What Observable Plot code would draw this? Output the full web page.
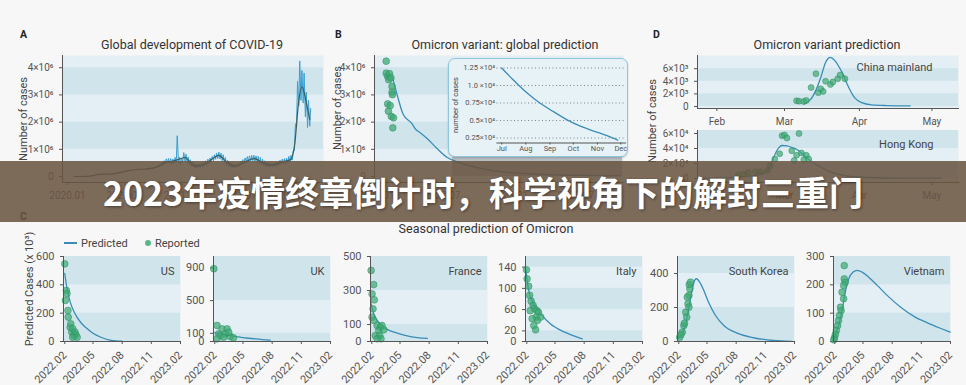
<!DOCTYPE html>
<html><head><meta charset="utf-8">
<script src="https://cdn.jsdelivr.net/npm/d3@7"></script>
<script src="https://cdn.jsdelivr.net/npm/@observablehq/plot@0.6"></script>
<style>
html,body{margin:0;padding:0;background:#f7f7f7;}
#root{position:relative;width:966px;height:385px;overflow:hidden;background:#f7f7f7;font-family:Roboto,"Noto Sans",sans-serif;}
svg{overflow:visible;}
.title{position:absolute;font-size:12.5px;color:#333;transform:translate(-50%,-50%);white-space:nowrap;}
.letter{position:absolute;font-size:10.5px;font-weight:700;color:#222;transform:translate(0,-50%);}
.ylab{position:absolute;font-size:11px;color:#444;transform:translate(-50%,-50%) rotate(-90deg);white-space:nowrap;}
.note{position:absolute;font-size:11px;color:#444;white-space:nowrap;transform:translate(0,-50%);}
#inset{position:absolute;left:448px;top:58px;width:180px;height:99px;box-sizing:border-box;border:1.5px solid #8fc6dd;border-radius:7px;background:#e7f2f7;box-shadow:0 1px 2px rgba(0,0,0,0.18);}
#shade{position:absolute;left:452px;top:157px;width:170px;height:19px;background:rgba(60,60,60,0.28);}
#banner{position:absolute;left:0;top:161px;width:966px;height:61px;background:rgba(105,84,64,0.86);display:flex;align-items:center;justify-content:center;color:#fff;font-family:"Noto Sans CJK SC",sans-serif;font-weight:700;font-size:34px;text-shadow:1px 1px 3px rgba(0,0,0,0.45);white-space:nowrap;}
</style></head><body><div id="root"></div>
<script>
// ---------- DATA ----------
// Panel A: global daily cases (millions)
const aWeekStart = "2020-09-07";
const aDailyHigh = [0.31,0.32,0.33,0.34, 0.36,0.40,0.45,0.52, 0.58,0.65,0.66,0.66,0.64, 0.70,1.50,0.72,0.68,
  0.88,0.82,0.72,0.62, 0.55,0.48,0.44,0.46, 0.48,0.52,0.58,0.64,0.68, 0.74,0.80,0.86,0.90, 0.86,0.80,0.70,0.60,0.52,
  0.48,0.45,0.46,0.50, 0.56,0.62,0.68,0.73, 0.76,0.78,0.78,0.76,0.74, 0.70,0.64,0.58,0.54, 0.50,0.48,0.50,0.52,
  0.55,0.60,0.64,0.66,0.68, 0.74,0.78,0.95,1.90, 3.50,4.25,3.90,3.80,3.10, 2.80,2.50];
const aDailyLow = [0.24,0.25,0.26,0.27, 0.28,0.31,0.34,0.38, 0.42,0.47,0.50,0.48,0.46, 0.50,0.52,0.52,0.45,
  0.55,0.56,0.50,0.44, 0.38,0.34,0.31,0.33, 0.34,0.37,0.41,0.44,0.48, 0.52,0.58,0.63,0.66, 0.64,0.58,0.50,0.42,0.36,
  0.34,0.32,0.33,0.35, 0.38,0.42,0.47,0.52, 0.55,0.58,0.58,0.56,0.52, 0.48,0.44,0.40,0.37, 0.35,0.34,0.36,0.37,
  0.38,0.42,0.45,0.46,0.46, 0.50,0.52,0.60,0.95, 2.00,2.60,2.80,2.70,2.20, 1.80,1.85];
const aTrendDates = ["2020-01-22","2020-03-01","2020-03-20","2020-04-10","2020-05-15","2020-06-15","2020-07-15","2020-08-15","2020-09-15","2020-10-15","2020-11-10","2020-12-01","2020-12-20","2021-01-10","2021-02-10","2021-03-10","2021-04-10","2021-04-28","2021-05-25","2021-06-20","2021-07-20","2021-08-20","2021-09-25","2021-10-15","2021-11-20","2021-12-15","2021-12-28","2022-01-10","2022-01-20","2022-02-05","2022-02-14"];
const aTrendValues = [0,0.002,0.03,0.08,0.09,0.14,0.22,0.26,0.28,0.36,0.52,0.56,0.62,0.70,0.40,0.42,0.66,0.78,0.52,0.38,0.52,0.66,0.46,0.42,0.55,0.62,1.2,2.8,3.3,2.6,2.1];
const abYTicks = [0,1,2,3,4];
const abYTickLabels = ["0","1×10⁶","2×10⁶","3×10⁶","4×10⁶"];
const abDarkBands = [[1,2],[3,4]];
const aXTicks = ["2020-01-01","2020-07-01","2021-01-01","2021-07-01","2022-01-01"];
const aXTickLabels = ["2020.01","2020.07","2021.01","2021.07","2022.01"];

// Panel B: global Omicron prediction (millions)
const bDotDates = ["2022-01-28","2022-01-28","2022-02-01","2022-02-06","2022-02-04","2022-02-10","2022-02-13","2022-02-13","2022-02-14","2022-02-01","2022-02-08","2022-02-03","2022-02-11","2022-02-17","2022-02-15"];
const bDotValues = [4.24,3.80,3.68,3.78,3.56,3.63,3.31,3.10,3.01,2.67,2.61,2.40,2.21,2.16,1.79];
const bPredDates = ["2022-02-14","2022-02-27","2022-03-15","2022-04-08","2022-04-19","2022-04-30","2022-05-20","2022-06-16","2022-07-14","2022-08-19","2022-10-13","2022-12-07","2023-03-30","2023-07-19","2023-11-01"];
const bPredValues = [3.65,3.0,2.3,1.95,1.73,1.62,1.4,1.03,0.7,0.5,0.3,0.18,0.08,0.04,0.02];
const bXTicks = ["2022-01-01","2022-07-01","2023-01-01","2023-07-01"];
const bXTickLabels = ["2022.01","2022.07","2023.01","2023.07"];
// Inset (×10⁴)
const insetDates = ["2022-07-01","2022-07-15","2022-08-02","2022-08-19","2022-09-05","2022-09-23","2022-10-10","2022-10-27","2022-11-14","2022-11-27"];
const insetValues = [1.25,1.09,0.9,0.75,0.63,0.51,0.42,0.35,0.28,0.22];
const insetYTicks = [0.25,0.5,0.75,1,1.25];
const insetYTickLabels = ["0.25×10⁴","0.5×10⁴","0.75×10⁴","1.0 ×10⁴","1.25 ×10⁴"];
const insetXTicks = ["2022-07-01","2022-08-01","2022-09-01","2022-10-01","2022-11-01","2022-12-01"];
const insetXTickLabels = ["Jul","Aug","Sep","Oct","Nov","Dec"];

// Panel D
const dXTicks = ["2022-02-01","2022-03-01","2022-04-01","2022-05-01"];
const dXTickLabels = ["Feb","Mar","Apr","May"];
const cnDotDates = ["2022-03-06","2022-03-07","2022-03-09","2022-03-10","2022-03-12","2022-03-14","2022-03-15","2022-03-16","2022-03-17","2022-03-18","2022-03-20","2022-03-21","2022-03-23","2022-03-24","2022-03-26"];
const cnDotValues = [900,850,800,950,3000,5200,2200,2800,2400,4000,3500,3900,4400,5000,4400];
const cnPredDates = ["2022-03-09","2022-03-10","2022-03-12","2022-03-14","2022-03-16","2022-03-18","2022-03-20","2022-03-22","2022-03-24","2022-03-25","2022-03-27","2022-03-30","2022-04-02","2022-04-06","2022-04-12","2022-04-22"];
const cnPredValues = [400,600,1200,2600,4600,7000,7800,7200,6000,5300,3500,1400,600,250,150,100];
const cnYTicks = [0,2000,4000,6000];
const cnYTickLabels = ["0","2×10³","4×10³","6×10³"];
const cnDarkBands = [[0,2000],[4000,6000]];
const hkDotDates = ["2022-02-10","2022-02-12","2022-02-14","2022-02-17","2022-02-19","2022-02-22","2022-02-23","2022-02-25","2022-02-27","2022-02-28","2022-03-01","2022-03-02","2022-03-04","2022-03-05","2022-03-06","2022-03-07","2022-03-08","2022-03-09","2022-03-10","2022-03-11"];
const hkDotValues = [5000,6000,8000,9000,9000,11000,17000,26000,33000,57000,58000,54000,37000,24000,31000,60000,34000,25000,31000,26000];
const hkPredDates = ["2022-01-25","2022-02-08","2022-02-15","2022-02-19","2022-02-21","2022-02-23","2022-02-24","2022-02-26","2022-02-28","2022-03-02","2022-03-04","2022-03-06","2022-03-08","2022-03-10","2022-03-13","2022-03-16","2022-03-20","2022-03-25","2022-04-01","2022-04-08","2022-04-20","2022-05-05"];
const hkPredValues = [300,1500,3500,5500,8000,16000,24000,38000,44000,43500,41500,39000,34000,28000,21000,15000,9000,4500,2000,1000,500,400];
const hkYTicks = [0,20000,40000,60000];
const hkYTickLabels = ["0","2×10⁴","4×10⁴","6×10⁴"];
const hkDarkBands = [[0,20000],[40000,64000]];

// Panel C (thousands)
const cXTicks = ["2022-02-01","2022-05-01","2022-08-01","2022-11-01","2023-02-01"];
const cXTickLabels = ["2022.02","2022.05","2022.08","2022.11","2023.02"];
const cCountries = ["US","UK","France","Italy","South Korea","Vietnam"];
const usDotDates = ["2022-02-01","2022-02-03","2022-02-06","2022-02-08","2022-02-11","2022-02-12","2022-02-18","2022-02-20","2022-02-23","2022-02-26","2022-03-02","2022-03-05","2022-03-08","2022-03-12","2022-02-26"];
const usDotValues = [548,290,360,338,219,172,101,125,66,90,42,66,49,30,30];
const usPredDates = ["2022-02-01","2022-02-08","2022-02-18","2022-03-01","2022-03-12","2022-03-23","2022-04-03","2022-04-13","2022-05-01","2022-05-26","2022-06-27","2022-08-01"];
const usPredValues = [480,375,280,215,170,136,110,90,58,30,8,2];
const ukDotDates = ["2022-01-29","2022-02-08","2022-02-13","2022-02-24","2022-02-19","2022-03-07","2022-03-12","2022-03-01","2022-03-22","2022-03-17","2022-02-08","2022-04-01"];
const ukDotValues = [890,196,94,155,73,94,155,53,61,114,33,45];
const ukPredDates = ["2022-02-01","2022-02-15","2022-03-01","2022-03-20","2022-04-10","2022-05-01","2022-05-20","2022-06-10","2022-07-01","2022-07-26"];
const ukPredValues = [110,95,85,72,60,48,40,31,24,18];
const frDotDates = ["2022-01-30","2022-02-07","2022-02-02","2022-02-09","2022-02-05","2022-02-02","2022-02-07","2022-02-18","2022-02-28","2022-02-23","2022-03-05","2022-02-12","2022-02-26","2022-03-11","2022-03-02","2022-02-18"];
const frDotValues = [418,335,280,245,192,143,124,94,84,65,94,35,35,69,16,16];
const frPredDates = ["2022-01-28","2022-02-07","2022-02-18","2022-03-11","2022-04-22","2022-06-03","2022-07-26"];
const frPredValues = [241,163,124,84,49,29,18];
const itDotDates = ["2022-01-31","2022-02-02","2022-02-07","2022-02-10","2022-02-15","2022-02-21","2022-02-25","2022-03-05","2022-03-10","2022-03-03","2022-03-07","2022-02-23","2022-02-18","2022-03-01","2022-02-12","2022-03-17"];
const itDotValues = [135,118,104,87,76,68,62,58,55,46,40,30,43,22,58,46];
const itPredDates = ["2022-01-28","2022-02-07","2022-02-23","2022-03-17","2022-04-17","2022-05-30","2022-07-26"];
const itPredValues = [139,96,71,52,33,18,5];
const skDotDates = ["2022-02-04","2022-02-12","2022-02-17","2022-02-23","2022-02-26","2022-03-02","2022-03-05","2022-03-05","2022-03-08","2022-03-06","2022-03-10","2022-02-28","2022-02-19","2022-02-08"];
const skDotValues = [25,55,94,172,143,222,202,271,310,335,349,261,108,41];
const skPredDates = ["2022-01-29","2022-02-12","2022-02-23","2022-03-05","2022-03-16","2022-03-24","2022-03-29","2022-04-08","2022-04-21","2022-05-06","2022-05-28","2022-06-23","2022-08-04","2022-09-25","2022-11-27","2023-01-24"];
const skPredValues = [16,45,104,202,310,363,369,349,300,231,153,94,49,22,6,1];
const vnDotDates = ["2022-03-03","2022-03-03","2022-03-06","2022-03-01","2022-02-24","2022-03-01","2022-02-19","2022-02-21","2022-02-16","2022-02-13","2022-02-10","2022-02-06","2022-02-03","2022-01-31","2022-01-29"];
const vnDotValues = [268,221,209,198,174,151,121,109,92,74,56,39,25,13,6];
const vnPredDates = ["2022-01-28","2022-02-13","2022-02-24","2022-03-06","2022-03-17","2022-03-31","2022-04-13","2022-04-28","2022-05-19","2022-06-15","2022-07-17","2022-08-28","2022-10-10","2022-11-22","2023-01-04","2023-01-31"];
const vnPredValues = [6,56,109,174,221,245,251,245,227,198,162,121,88,65,45,33];

// ---------- HELPERS ----------
const LIGHT = "#e3eff4", DARK = "#d0e4ec", BLUE = "#3a8db6", GREEN = "#3eaa76", GREEN_EDGE = "#2f8c5f", AXIS = "#555", TREND = "#3f5d58";
const root = document.getElementById("root");
const toDate = s => new Date(s + "T00:00:00Z");
const lookup = (ticks, labels) => d => { const i = ticks.findIndex(t => +t === +d); return i < 0 ? "" : labels[i]; };
const zip = (ds, vs) => ds.map((d, i) => ({date: toDate(d), v: vs[i]}));
const baseStyle = {background: "transparent", fontFamily: "Roboto, sans-serif", fontSize: "10px", color: "#555", overflow: "visible"};
function place(node, left, top) { node.style.position = "absolute"; node.style.left = left + "px"; node.style.top = top + "px"; root.appendChild(node); }
function html(cls, text, left, top, parent) { const e = document.createElement("div"); e.className = cls; e.innerHTML = text; e.style.left = left + "px"; e.style.top = top + "px"; (parent || root).appendChild(e); return e; }
const bg = bands => [Plot.frame({fill: LIGHT, stroke: null}), Plot.rect(bands, {y1: d => d[0], y2: d => d[1], fill: DARK})];
const axesLines = () => [Plot.frame({anchor: "left", stroke: AXIS}), Plot.frame({anchor: "bottom", stroke: AXIS})];

// ---------- PANEL A ----------
const aDaily = aDailyHigh.flatMap((h, i) => {
  const d0 = d3.utcDay.offset(toDate(aWeekStart), i * 7);
  return [{date: d0, v: aDailyLow[i]}, {date: d3.utcDay.offset(d0, 3), v: h}];
});
place(Plot.plot({
  width: 330, height: 210, marginLeft: 62, marginRight: 7, marginTop: 55, marginBottom: 28, style: baseStyle,
  x: {type: "utc", domain: [toDate("2019-12-16"), toDate("2022-03-30")], ticks: aXTicks.map(toDate), tickFormat: lookup(aXTicks.map(toDate), aXTickLabels), tickSize: 3, label: null},
  y: {domain: [-0.22, 4.45], ticks: abYTicks, tickFormat: lookup(abYTicks, abYTickLabels), tickSize: 3, label: null},
  marks: [...bg(abDarkBands),
    Plot.line(aDaily, {x: "date", y: "v", stroke: "#3a9fd2", strokeWidth: 1}),
    Plot.line(zip(aTrendDates, aTrendValues), {x: "date", y: "v", stroke: TREND, strokeWidth: 1.2, curve: "monotone-x"}),
    ...axesLines()]
}), 0, 0);

// ---------- PANEL B ----------
place(Plot.plot({
  width: 310, height: 210, marginLeft: 54, marginRight: 7, marginTop: 55, marginBottom: 28, style: baseStyle,
  x: {type: "utc", domain: [toDate("2021-12-27"), toDate("2023-11-08")], ticks: bXTicks.map(toDate), tickFormat: lookup(bXTicks.map(toDate), bXTickLabels), tickSize: 3, label: null},
  y: {domain: [-0.22, 4.45], ticks: abYTicks, tickFormat: lookup(abYTicks, abYTickLabels), tickSize: 3, label: null},
  marks: [...bg(abDarkBands),
    Plot.line(zip(bPredDates, bPredValues), {x: "date", y: "v", stroke: BLUE, strokeWidth: 1.3, curve: "monotone-x"}),
    Plot.dot(zip(bDotDates, bDotValues), {x: "date", y: "v", r: 3.4, fill: GREEN, fillOpacity: 0.75, stroke: GREEN_EDGE, strokeWidth: 0.5}),
    ...axesLines()]
}), 320, 0);
const shade = document.createElement("div"); shade.id = "shade"; root.appendChild(shade);
const inset = document.createElement("div"); inset.id = "inset"; root.appendChild(inset);
const insetPlot = Plot.plot({
  width: 177, height: 96, marginLeft: 47.5, marginRight: 1, marginTop: 2.5, marginBottom: 12.5,
  style: {...baseStyle, fontSize: "7.5px"},
  x: {type: "utc", domain: [toDate("2022-06-25"), toDate("2022-12-07")], ticks: insetXTicks.map(toDate), tickFormat: lookup(insetXTicks.map(toDate), insetXTickLabels), tickSize: 2, tickPadding: 1, label: null},
  y: {domain: [0.179, 1.336], ticks: insetYTicks, tickFormat: lookup(insetYTicks, insetYTickLabels), tickSize: 0, tickPadding: 2, label: null},
  marks: [
    Plot.ruleY(insetYTicks, {stroke: "#666", strokeDasharray: "1,2.5", strokeWidth: 0.8}),
    Plot.line(zip(insetDates, insetValues), {x: "date", y: "v", stroke: BLUE, strokeWidth: 1.3, curve: "monotone-x"}),
    Plot.frame({anchor: "bottom", stroke: AXIS, strokeWidth: 1.2})]
});
insetPlot.style.position = "absolute"; insetPlot.style.left = "0px"; insetPlot.style.top = "0px";
inset.appendChild(insetPlot);
const il = html("ylab", "number of cases", 6, 46, inset); il.style.fontSize = "7.5px";

// ---------- PANEL D ----------
const dDomain = [toDate("2022-01-24"), toDate("2022-05-12")];
const dX = {type: "utc", domain: dDomain, ticks: dXTicks.map(toDate), tickFormat: lookup(dXTicks.map(toDate), dXTickLabels), tickSize: 3, label: null, fontSize: 11};
place(Plot.plot({
  width: 321, height: 84, marginLeft: 52, marginRight: 8, marginTop: 15, marginBottom: 16, style: baseStyle,
  x: dX,
  y: {domain: [-320, 8100], ticks: cnYTicks, tickFormat: lookup(cnYTicks, cnYTickLabels), tickSize: 3, label: null},
  marks: [...bg(cnDarkBands),
    Plot.text(["China mainland"], {text: d => d, frameAnchor: "top-right", dx: -26, dy: 8, fontSize: 11, fill: "#444"}),
    Plot.line(zip(cnPredDates, cnPredValues), {x: "date", y: "v", stroke: BLUE, strokeWidth: 1.3, curve: "monotone-x"}),
    Plot.dot(zip(cnDotDates, cnDotValues), {x: "date", y: "v", r: 3, fill: GREEN, fillOpacity: 0.7, stroke: GREEN_EDGE, strokeWidth: 0.5}),
    ...axesLines()]
}), 645, 40);
place(Plot.plot({
  width: 321, height: 82, marginLeft: 52, marginRight: 8, marginTop: 10, marginBottom: 20, style: baseStyle,
  x: dX,
  y: {domain: [-5300, 64000], ticks: hkYTicks, tickFormat: lookup(hkYTicks, hkYTickLabels), tickSize: 3, label: null},
  marks: [...bg(hkDarkBands),
    Plot.text(["Hong Kong"], {text: d => d, frameAnchor: "top-right", dx: -25, dy: 10, fontSize: 11, fill: "#444"}),
    Plot.line(zip(hkPredDates, hkPredValues), {x: "date", y: "v", stroke: BLUE, strokeWidth: 1.3, curve: "monotone-x"}),
    Plot.dot(zip(hkDotDates, hkDotValues), {x: "date", y: "v", r: 3, fill: GREEN, fillOpacity: 0.7, stroke: GREEN_EDGE, strokeWidth: 0.5}),
    ...axesLines()]
}), 645, 120);

// ---------- PANEL C ----------
const cLayout = [
  {left: 63, dom: [0, 600], ticks: [0,200,400,600], bands: [[0,200],[400,600]], dd: usDotDates, dv: usDotValues, pd: usPredDates, pv: usPredValues},
  {left: 213, dom: [0, 1040], ticks: [0,100,500,900], bands: [[0,100],[500,1040]], dd: ukDotDates, dv: ukDotValues, pd: ukPredDates, pv: ukPredValues},
  {left: 370, dom: [0, 500], ticks: [0,100,300,500], bands: [[0,100],[300,500]], dd: frDotDates, dv: frDotValues, pd: frPredDates, pv: frPredValues},
  {left: 525, dom: [0, 160], ticks: [0,20,60,100,140], bands: [[0,20],[60,100],[140,160]], dd: itDotDates, dv: itDotValues, pd: itPredDates, pv: itPredValues},
  {left: 677, dom: [0, 500], ticks: [0,200,400], bands: [[0,200],[400,500]], dd: skDotDates, dv: skDotValues, pd: skPredDates, pv: skPredValues},
  {left: 833, dom: [0, 300], ticks: [0,100,200,300], bands: [[0,100],[200,300]], dd: vnDotDates, dv: vnDotValues, pd: vnPredDates, pv: vnPredValues}
];
cLayout.forEach((c, k) => {
  const mL = 40, mR = 12, mT = 10, mB = 50;
  place(Plot.plot({
    width: 117 + mL + mR, height: 85 + mT + mB, marginLeft: mL, marginRight: mR, marginTop: mT, marginBottom: mB,
    style: {...baseStyle, fontSize: "11px"},
    x: {type: "utc", domain: [toDate("2022-01-28"), toDate("2023-02-01")], ticks: cXTicks.map(toDate), tickFormat: lookup(cXTicks.map(toDate), cXTickLabels), tickRotate: -45, tickSize: 3, label: null},
    y: {domain: c.dom, ticks: c.ticks, tickSize: 3, label: null},
    marks: [...bg(c.bands),
      Plot.text([cCountries[k]], {text: d => d, frameAnchor: "top-right", dx: -6, dy: 11, fontSize: 11, fill: "#444"}),
      Plot.line(zip(c.pd, c.pv), {x: "date", y: "v", stroke: BLUE, strokeWidth: 1.3, curve: "monotone-x"}),
      Plot.dot(zip(c.dd, c.dv), {x: "date", y: "v", r: 3.4, fill: GREEN, fillOpacity: 0.72, stroke: GREEN_EDGE, strokeWidth: 0.5}),
      ...axesLines()]
  }), c.left - mL, 256 - mT);
});

// ---------- TEXT ----------
html("letter", "A", 20, 34); html("letter", "B", 335, 34); html("letter", "D", 653, 34); html("letter", "C", 20, 216);
html("title", "Global development of COVID-19", 192, 44);
html("title", "Omicron variant: global prediction", 505, 44);
html("title", "Omicron variant prediction", 827, 44);
html("title", "Seasonal prediction of Omicron", 486, 228);
html("ylab", "Number of cases", 23, 119);
html("ylab", "Number of cases", 337, 108);
html("ylab", "Number of cases", 652, 121);
html("ylab", "Predicted Cases (x 10³)", 29, 289);
// legend
const sw = document.createElement("div"); sw.style.cssText = `position:absolute;left:64px;top:242px;width:13px;height:2px;background:${BLUE};`; root.appendChild(sw);
html("note", "Predicted", 81, 243);
const dt = document.createElement("div"); dt.style.cssText = `position:absolute;left:145px;top:240px;width:6px;height:6px;border-radius:50%;background:${GREEN};opacity:0.85;`; root.appendChild(dt);
html("note", "Reported", 155, 243);

// ---------- BANNER ----------
const banner = document.createElement("div"); banner.id = "banner"; banner.textContent = "2023年疫情终章倒计时，科学视角下的解封三重门"; root.appendChild(banner);
</script></body></html>
